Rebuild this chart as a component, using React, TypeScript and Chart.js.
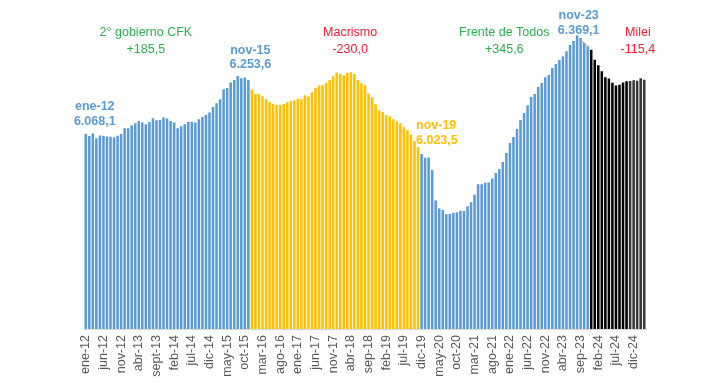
import React, { useEffect, useRef } from "react";
import { Chart, registerables } from "chart.js";

Chart.register(...registerables);

const FONT = "'Liberation Sans', Arial, Helvetica, sans-serif";

// Monthly values, Jan-2012 .. Mar-2025 (thousands)
const cfkValues = [
  6068.1, 6061, 6070, 6054, 6063, 6062, 6060, 6059, 6057, 6062, 6068, 6088,
  6088, 6098, 6105, 6113, 6108, 6102, 6109, 6122, 6115, 6116, 6125, 6121,
  6113, 6108, 6088, 6095, 6102, 6109, 6110, 6108, 6119, 6127, 6134, 6142,
  6161, 6174, 6187, 6222, 6226, 6245, 6253, 6267, 6259, 6262, 6253.6,
];
const macriValues = [
  6221, 6206, 6205, 6198, 6187, 6178, 6172, 6168, 6168, 6171, 6177, 6182,
  6184, 6189, 6187, 6201, 6197, 6211, 6226, 6234, 6235, 6243, 6253, 6266,
  6279, 6274, 6269, 6278, 6280, 6274, 6253, 6242, 6235, 6207, 6194, 6170,
  6150, 6144, 6133, 6129, 6119, 6112, 6105, 6092, 6081, 6066, 6043, 6023.5,
];
const fdtValues = [
  6000, 5987, 5988, 5945, 5840, 5813, 5808, 5793, 5794, 5798, 5800, 5805,
  5804, 5821, 5834, 5860, 5896, 5896, 5901, 5902, 5916, 5935, 5948, 5972,
  6003, 6037, 6058, 6085, 6116, 6140, 6167, 6195, 6205, 6229, 6243, 6263,
  6270, 6294, 6308, 6322, 6335, 6352, 6373, 6387, 6407, 6397, 6380, 6369.1,
];
const mileiValues = [
  6357, 6323, 6304, 6283, 6263, 6258, 6244, 6234, 6237, 6245, 6249, 6250,
  6252, 6251, 6259, 6253.7,
];

const monthNames = ["ene", "feb", "mar", "abr", "may", "jun", "jul", "ago", "sep", "oct", "nov", "dic"];
const tickLabels = [
  "ene-12", "jun-12", "nov-12", "abr-13", "sept-13", "feb-14", "jul-14", "dic-14",
  "may-15", "oct-15", "mar-16", "ago-16", "ene-17", "jun-17", "nov-17", "abr-18",
  "sep-18", "feb-19", "jul-19", "dic-19", "may-20", "oct-20", "mar-21", "ago-21",
  "ene-22", "jun-22", "nov-22", "abr-23", "sep-23", "feb-24", "jul-24", "dic-24",
];

const periodNames = ["2° gobierno CFK", "Macrismo", "Frente de Todos", "Milei"];
const periodChanges = ["+185,5", "-230,0", "+345,6", "-115,4"];
const periodLabelIndex = [17, 74.8, 118.4, 156.2];

const pointTitles = ["ene-12", "nov-15", "nov-19", "nov-23"];
const pointValueTexts = ["6.068,1", "6.253,6", "6.023,5", "6.369,1"];

const BLUE = "#5B9BD5";
const YELLOW = "#FFC000";
const GREEN = "#2DB04F";
const RED = "#F21D2F";
const BLACK = "#000000";
const DARKGRAY = "#3B3838";

export default function App() {
  const canvasRef = useRef<HTMLCanvasElement | null>(null);

  useEffect(() => {
    const values = [...cfkValues, ...macriValues, ...fdtValues, ...mileiValues];
    const categories = values.map((_, i) => {
      const m = i % 12;
      const y = 12 + Math.floor(i / 12);
      return `${monthNames[m]}-${y}`;
    });
    const n1 = cfkValues.length;
    const n2 = n1 + macriValues.length;
    const n3 = n2 + fdtValues.length;
    const colors = values.map((_, i) => {
      if (i < n1) return BLUE;
      if (i < n2) return YELLOW;
      if (i < n3) return BLUE;
      if (i >= values.length - 5) return DARKGRAY;
      return BLACK;
    });
    const pointIdx = [0, n1 - 1, n2 - 1, n3 - 1];
    const pointColors = [BLUE, BLUE, YELLOW, BLUE];
    const pointDx = [9, 2, -2, -9];
    const pointAlign: CanvasTextAlign[] = ["center", "center", "left", "center"];
    const pointDy = [[-27, -12], [-29.5, -15], [-21.5, -7], [-31, -16]];
    const periodColors = [GREEN, RED, GREEN, RED];

    const annotPlugin = {
      id: "annots",
      afterDatasetsDraw(chart: any) {
        const { ctx, scales, chartArea } = chart;
        const xs = scales.x;
        const ys = scales.y;
        ctx.save();
        ctx.textBaseline = "middle";
        ctx.font = `12.5px ${FONT}`;
        ctx.textAlign = "center";
        periodNames.forEach((name, k) => {
          const px = xs.getPixelForValue(periodLabelIndex[k]);
          ctx.fillStyle = periodColors[k];
          ctx.fillText(name, px, chartArea.top + 25);
          ctx.fillText(periodChanges[k], px, chartArea.top + 42);
        });
        ctx.font = `bold 12.5px ${FONT}`;
        pointTitles.forEach((t, k) => {
          const idx = pointIdx[k];
          const bx = xs.getPixelForValue(idx);
          const by = ys.getPixelForValue(values[idx]);
          const px = bx + pointDx[k];
          if (k === 3) {
            ctx.strokeStyle = "#A6A6A6";
            ctx.lineWidth = 1;
            ctx.beginPath();
            ctx.moveTo(px, by + pointDy[k][1] + 8);
            ctx.lineTo(bx, by);
            ctx.stroke();
          }
          ctx.fillStyle = pointColors[k];
          ctx.textAlign = pointAlign[k];
          ctx.fillText(t, px, by + pointDy[k][0]);
          ctx.fillText(pointValueTexts[k], px, by + pointDy[k][1]);
        });
        ctx.restore();
      },
    };

    const chart = new Chart(canvasRef.current as HTMLCanvasElement, {
      type: "bar",
      data: {
        labels: categories,
        datasets: [
          {
            data: values,
            backgroundColor: colors,
            borderWidth: 0,
            categoryPercentage: 1,
            barPercentage: 0.72,
          },
        ],
      },
      options: {
        responsive: false,
        animation: false,
        devicePixelRatio: 1,
        layout: { padding: { left: 84, right: 80, top: 8, bottom: 0 } },
        plugins: { legend: { display: false }, tooltip: { enabled: false } },
        scales: {
          x: {
            grid: { display: false, drawTicks: false },
            border: { display: true, color: "#D9D9D9", width: 1 },
            ticks: {
              autoSkip: false,
              maxRotation: 90,
              minRotation: 90,
              padding: 6,
              color: "#595959",
              font: { family: FONT, size: 12.5 },
              callback: (_v: any, i: number) => (i % 5 === 0 ? tickLabels[i / 5] : ""),
            },
            afterFit: (s: any) => {
              s.height = 58;
            },
          },
          y: { display: false, min: 5400, max: 6500 },
        },
      },
      plugins: [annotPlugin],
    } as any);
    return () => chart.destroy();
  }, []);

  return (
    <div style={{ position: "absolute", left: 0, top: 0, width: 726, height: 387, background: "#fff" }}>
      <canvas ref={canvasRef} width={726} height={387} style={{ width: 726, height: 387, display: "block" }} />
    </div>
  );
}
